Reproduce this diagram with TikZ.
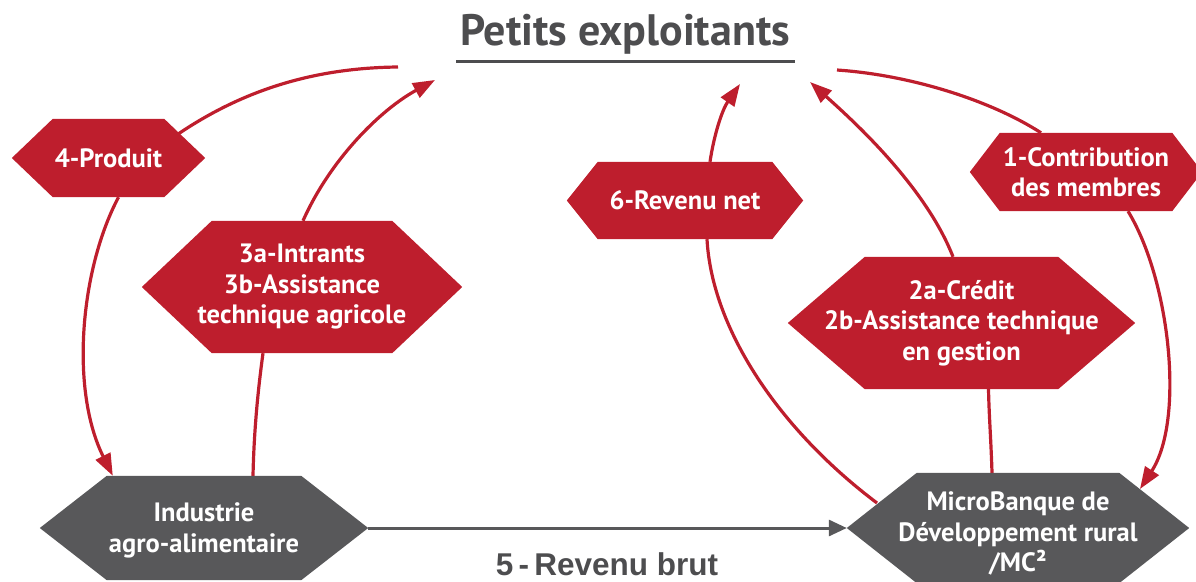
\documentclass[tikz,border=0pt]{standalone}
\usepackage{fontspec}
\setmainfont{PT Sans}
\newfontfamily\arialfont{Liberation Sans}
\usetikzlibrary{arrows.meta,calc}
\definecolor{brickred}{RGB}{190,30,45}
\definecolor{hexgray}{RGB}{88,88,90}
\definecolor{textgray}{RGB}{77,77,79}
\pgfdeclarelayer{bg}
\pgfdeclarelayer{mid}
\pgfsetlayers{bg,mid,main}
\newcommand\hexfill[3]{%
  \begin{pgfonlayer}{mid}
    \fill[#3] (#1.west) -- ([xshift=#2]#1.north west) -- ([xshift=-#2]#1.north east)
      -- (#1.east) -- ([xshift=-#2]#1.south east) -- ([xshift=#2]#1.south west) -- cycle;
  \end{pgfonlayer}}
\tikzset{
  hexbox/.style={inner sep=0pt, text=white, align=center,
    font=\bfseries\fontsize{26.5}{30.5}\selectfont},
  redline/.style={draw=brickred, line width=3.2pt},
  redarrow/.style={redline, -{Triangle[length=22pt,width=16pt]}},
  grayarrow/.style={draw=hexgray, line width=3pt, -{Triangle[length=18pt,width=16pt]}},
}
\begin{document}
\begin{tikzpicture}[x=1pt,y=-1pt]
\useasboundingbox (0,0) rectangle (1196,581);
% title
\node[anchor=base, text=textgray, font=\bfseries\fontsize{44}{44}\selectfont] (title) at (625,45) {Petits exploitants};
\draw[textgray, line width=3pt] (456,61) -- (795,61);
% hexagon nodes
\node[hexbox, minimum width=193pt, minimum height=78pt] (prod) at (108.5,158) {4-Produit};
\node[hexbox, minimum width=320pt, minimum height=132pt] (intr) at (302,287) {3a-Intrants\\3b-Assistance\\technique agricole};
\node[hexbox, minimum width=328pt, minimum height=104pt] (ind) at (204,528) {\rule{0pt}{24pt}Industrie\\agro-alimentaire};
\node[hexbox, minimum width=236pt, minimum height=77pt] (rev) at (685,200.5) {6-Revenu net};
\node[hexbox, minimum width=232pt, minimum height=78pt] (contr) at (1086,172) {1-Contribution\\des membres};
\node[hexbox, minimum width=347pt, minimum height=132pt] (cred) at (961.5,323) {2a-Crédit\\2b-Assistance technique\\en gestion};
\node[hexbox, minimum width=342pt, minimum height=110pt] (mb) at (1018,528) {\rule{0pt}{30pt}MicroBanque de\\Développement rural\\/MC²};
\hexfill{prod}{41}{brickred}
\hexfill{intr}{70}{brickred}
\hexfill{ind}{67}{hexgray}
\hexfill{rev}{31}{brickred}
\hexfill{contr}{30}{brickred}
\hexfill{cred}{77}{brickred}
\hexfill{mb}{70}{hexgray}
% label of the gross revenue flow
\node[anchor=base, text=textgray, font=\arialfont\bfseries\fontsize{31.5}{31.5}\selectfont] (brut) at (607,575) {5\,-\,Revenu brut};
% free ends near the title
\coordinate (pa) at (398,67);
\coordinate (ta) at (435,80);
\coordinate (tb) at (740,84);
\coordinate (tc) at (810,82);
\coordinate (pe) at (837,70);
\begin{pgfonlayer}{bg}
  \draw[redline] (pa) .. controls (300,68) and (225,98) .. ($(prod.center)+(50,-10)$);
  \draw[redarrow] ($(prod.south)+(10,0)$) .. controls (80,270) and (70,390) .. ($(ind.north west)+(73,0)$);
  \draw[redline] ($(ind.north)+(49,0)$) .. controls (254,430) and (258,390) .. ($(intr.south)+(-39,0)$);
  \draw[redarrow] ($(intr.north)+(1,0)$) .. controls (330,160) and (380,110) .. (ta);
  \draw[redline] ($(mb.center)+(-141,-25)$) .. controls (780,430) and (712,330) .. ($(rev.south)+(22,0)$);
  \draw[redarrow] ($(rev.north)+(25,0)$) .. controls (714,135) and (722,110) .. (tb);
  \draw[redline] ($(mb.north)+(-26,0)$) .. controls (991,440) and (989,415) .. ($(cred.south)+(27,0)$);
  \draw[redarrow] ($(cred.north)+(-8.5,0)$) .. controls (925,185) and (850,118) .. (tc);
  \draw[redline] (pe) .. controls (910,75) and (990,100) .. ($(contr.north)+(-45,0)$);
  \draw[redarrow] ($(contr.south)+(42,0)$) .. controls (1170,280) and (1185,420) .. ($(mb.center)+(122,-39)$);
  \draw[grayarrow] (ind.east) -- (mb.west);
\end{pgfonlayer}
\end{tikzpicture}
\end{document}
